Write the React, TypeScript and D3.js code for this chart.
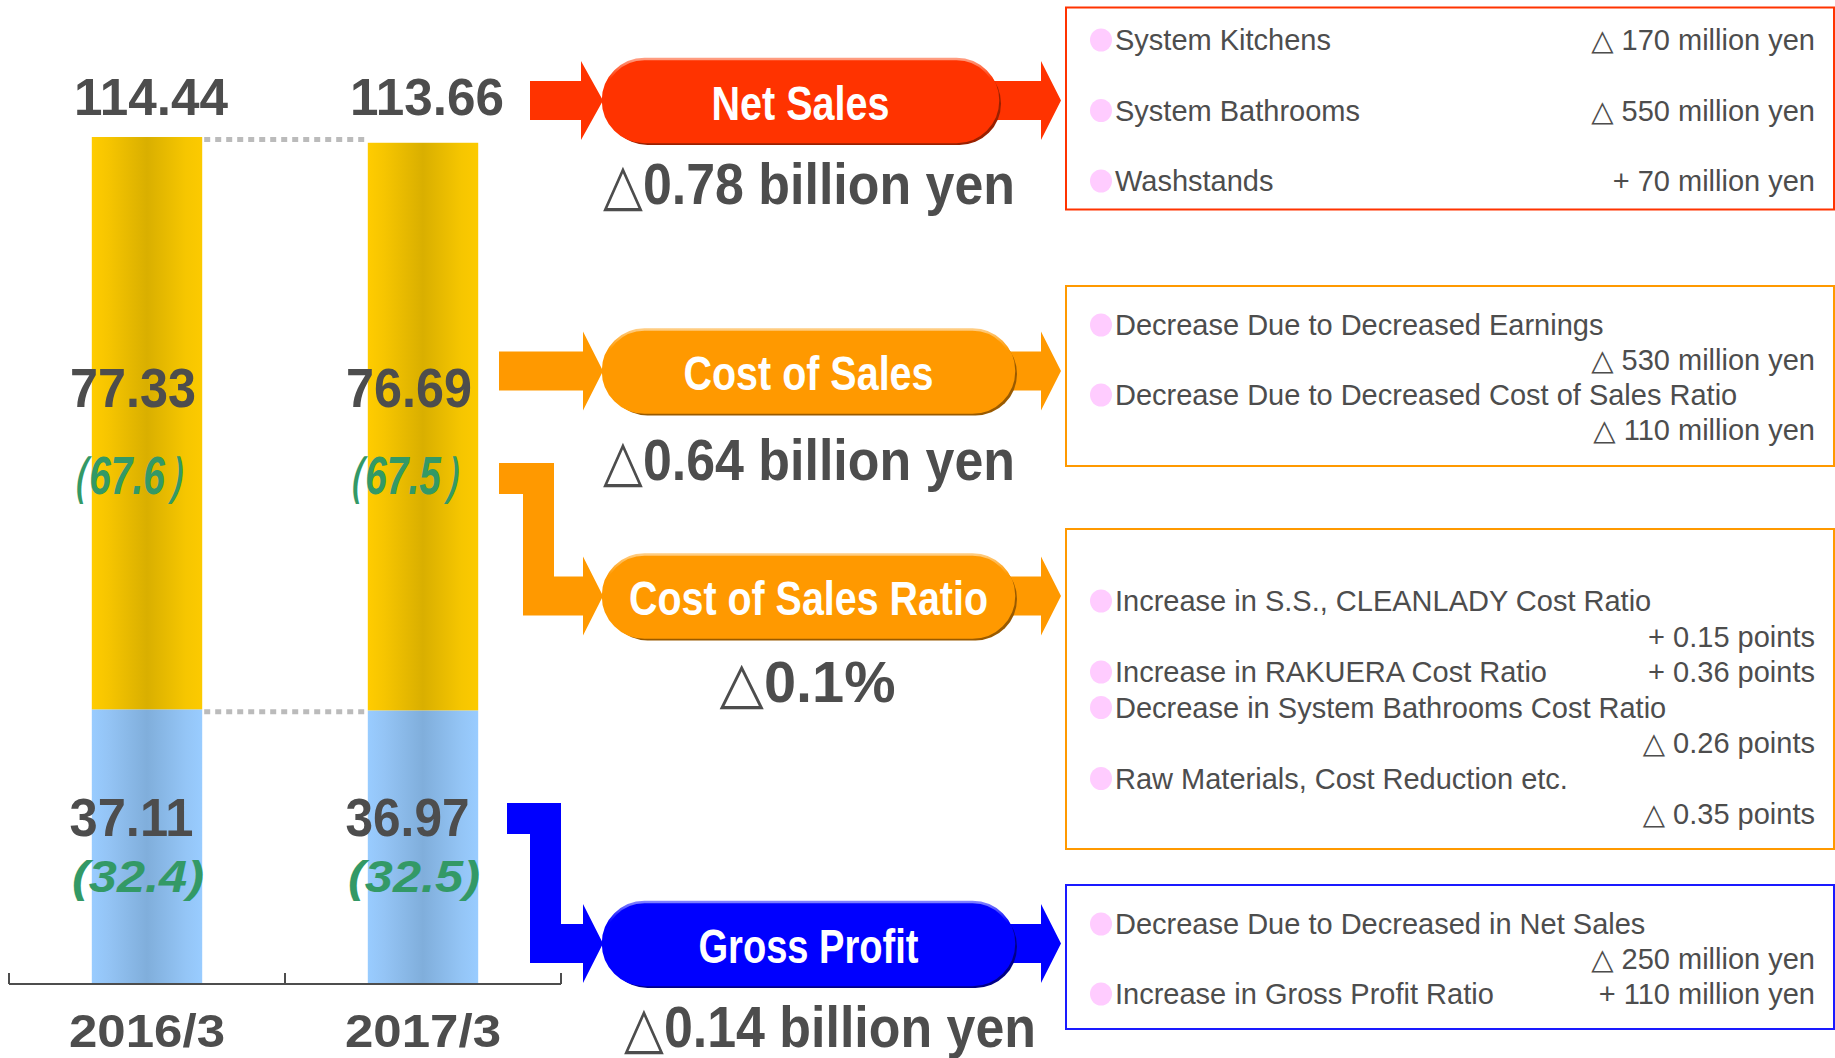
import React, { useEffect } from "react";
import * as d3 from "d3";

// ---------- data ----------
const categories = ["2016/3", "2017/3"];
const netSales = [114.44, 113.66];
const costOfSales = [77.33, 76.69];
const grossProfit = [37.11, 36.97];
const costRatio = ["（67.6）", "（67.5）"];
const grossRatio = ["(32.4)", "(32.5)"];

const flowNames = ["Net Sales", "Cost of Sales", "Cost of Sales Ratio", "Gross Profit"];
const flowChanges = ["△0.78 billion yen", "△0.64 billion yen", "△0.1%", "△0.14 billion yen"];

// [label, value, value on same line?]
const netSalesItems: [string, string, boolean][] = [
  ["System Kitchens", "△ 170 million yen", true],
  ["System Bathrooms", "△ 550 million yen", true],
  ["Washstands", "+ 70 million yen", true],
];
const costItems: [string, string, boolean][] = [
  ["Decrease Due to Decreased Earnings", "△ 530 million yen", false],
  ["Decrease Due to Decreased Cost of Sales Ratio", "△ 110 million yen", false],
];
const ratioItems: [string, string, boolean][] = [
  ["Increase in S.S., CLEANLADY Cost Ratio", "+ 0.15 points", false],
  ["Increase in RAKUERA Cost Ratio", "+ 0.36 points", true],
  ["Decrease in System Bathrooms Cost Ratio", "△ 0.26 points", false],
  ["Raw Materials, Cost Reduction etc.", "△ 0.35 points", false],
];
const grossItems: [string, string, boolean][] = [
  ["Decrease Due to Decreased in Net Sales", "△ 250 million yen", false],
  ["Increase in Gross Profit Ratio", "+ 110 million yen", true],
];

// ---------- styles ----------
const FONT = "'Liberation Sans', Arial, 'DejaVu Sans', sans-serif";
const GRAY = "#4D4D4D";
const GREEN = "#339966";

const RED = { fill: "#FF3300", shadow: "#992000", hl: "#FF9C80" };
const ORANGE = { fill: "#FF9900", shadow: "#995A00", hl: "#FFCC80" };
const BLUE = { fill: "#0000FF", shadow: "#000088", hl: "#8080FF" };

type Pal = { fill: string; shadow: string; hl: string };

function Pill({ id, x0, w, cy, pal, text, tl }: { id: string; x0: number; w: number; cy: number; pal: Pal; text: string; tl: number }) {
  const h = 83;
  const y0 = cy - h / 2;
  return (
    <g>
      <defs>
        <linearGradient id={id} x1="0" y1="0" x2="0" y2="1">
          <stop offset="0" stopColor={pal.hl} />
          <stop offset="0.25" stopColor={pal.fill} />
          <stop offset="1" stopColor={pal.fill} />
        </linearGradient>
      </defs>
      <rect x={x0 + 3} y={y0 + 3} width={w} height={h} rx={h / 2} fill={pal.shadow} />
      <rect x={x0} y={y0} width={w} height={h} rx={h / 2} fill={pal.fill} stroke={`url(#${id})`} strokeWidth={2.5} />
      <text
        x={x0 + w / 2}
        y={cy + 19}
        textAnchor="middle"
        fill="#fff"
        fontFamily={FONT}
        fontWeight="bold"
        fontSize={49}
        textLength={tl}
        lengthAdjust="spacingAndGlyphs"
      >
        {text}
      </text>
    </g>
  );
}

function arrowRight(xs: number, xb: number, xt: number, cy: number, col: string) {
  const sh = 19.5, hh = 39.5;
  const pts = [
    [xs, cy - sh], [xb, cy - sh], [xb, cy - hh], [xt, cy], [xb, cy + hh], [xb, cy + sh], [xs, cy + sh],
  ];
  return <polygon points={pts.map((p) => p.join(",")).join(" ")} fill={col} />;
}

function elbow(xs: number, ys: number, xv: number, xb: number, xt: number, cy: number, col: string) {
  const sh = 19.5, hh = 39.5, vw = 31;
  const pts = [
    [xs, ys], [xv + vw, ys], [xv + vw, cy - sh], [xb, cy - sh], [xb, cy - hh], [xt, cy],
    [xb, cy + hh], [xb, cy + sh], [xv, cy + sh], [xv, ys + 31], [xs, ys + 31],
  ];
  return <polygon points={pts.map((p) => p.join(",")).join(" ")} fill={col} />;
}

function Box({ y0, y1, color, items, first, step }: { y0: number; y1: number; color: string; items: [string, string, boolean][]; first: number; step: number }) {
  const els: React.ReactNode[] = [];
  let line = 0;
  items.forEach(([label, value, same], i) => {
    const by = first + line * step;
    els.push(<ellipse key={"b" + i} cx={1101} cy={by - 10} rx={11} ry={11.5} fill="#FFCCFF" />);
    els.push(
      <text key={"l" + i} x={1115} y={by} fill={GRAY} fontFamily={FONT} fontSize={29}>
        {label}
      </text>
    );
    const vy = same ? by : by + step;
    els.push(
      <text key={"v" + i} x={1815} y={vy} textAnchor="end" fill={GRAY} fontFamily={FONT} fontSize={29}>
        {value}
      </text>
    );
    line += same ? 1 : 2;
  });
  return (
    <g>
      <rect x={1066} y={y0} width={1834 - 1066} height={y1 - y0} fill="#fff" stroke={color} strokeWidth={2} />
      {els}
    </g>
  );
}

export default function App() {
  useEffect(() => {
    document.body.style.margin = "0";
  }, []);

  const W = 1835, H = 1058;
  const x = d3.scaleBand<string>().domain(categories).range([9, 561]).paddingInner(0.6).paddingOuter(0.3);
  const maxTotal = d3.max(netSales) as number;
  const y = d3.scaleLinear().domain([0, maxTotal]).range([984, 137]);
  const bw = x.bandwidth();

  const rows = categories.map((c, i) => ({ cat: c, gp: grossProfit[i], cos: costOfSales[i] }));
  const series = d3.stack<any>().keys(["gp", "cos"])(rows);
  const fills = ["url(#gBlue)", "url(#gYellow)"];

  const [r0, r1] = x.range();
  const ticks = d3.range(categories.length + 1).map((i) => r0 + i * x.step());

  const cx = (c: string) => (x(c) as number) + bw / 2;

  const bigNum = (key: string, tx: number, ty: number, size: number, tl: number, txt: string, italic = false, color = GRAY) => (
    <text
      key={key}
      x={tx}
      y={ty}
      textAnchor="middle"
      fill={color}
      fontFamily={FONT}
      fontWeight="bold"
      fontStyle={italic ? "italic" : "normal"}
      fontSize={size}
      textLength={tl}
      lengthAdjust="spacingAndGlyphs"
    >
      {txt}
    </text>
  );

  const flows = [
    { cy: 100.5, w: 395, pal: RED, tl: 178, chX: 809, chY: 204, chW: 412 },
    { cy: 371, w: 411, pal: ORANGE, tl: 250, chX: 809, chY: 480, chW: 412 },
    { cy: 596, w: 411, pal: ORANGE, tl: 359, chX: 807.5, chY: 701.5, chW: 176 },
    { cy: 943.5, w: 411, pal: BLUE, tl: 220, chX: 830, chY: 1046.5, chW: 412 },
  ];

  const topY = y(maxTotal);
  const gpTop = y(d3.max(grossProfit) as number);

  return (
    <svg width={W} height={H} style={{ position: "absolute", left: 0, top: 0, background: "#fff" }}>
      <defs>
        <linearGradient id="gYellow" x1="0" y1="0" x2="1" y2="0">
          <stop offset="0" stopColor="#FFCC00" />
          <stop offset="0.15" stopColor="#F6C500" />
          <stop offset="0.5" stopColor="#D9AF00" />
          <stop offset="0.85" stopColor="#F6C600" />
          <stop offset="1" stopColor="#FCCA00" />
        </linearGradient>
        <linearGradient id="gBlue" x1="0" y1="0" x2="1" y2="0">
          <stop offset="0" stopColor="#99CCFF" />
          <stop offset="0.15" stopColor="#94C4F5" />
          <stop offset="0.5" stopColor="#80AEDB" />
          <stop offset="0.85" stopColor="#94C5F6" />
          <stop offset="1" stopColor="#99CCFF" />
        </linearGradient>
      </defs>
      <rect width={W} height={H} fill="#fff" />

      {/* stacked bars */}
      {series.map((s, si) =>
        s.map((d, i) => (
          <rect
            key={`${si}-${i}`}
            x={x(categories[i]) as number}
            y={y(d[1])}
            width={bw}
            height={y(d[0]) - y(d[1])}
            fill={fills[si]}
          />
        ))
      )}

      {/* dashed connectors */}
      {[netSales[0], grossProfit[0]].map((v, i) => (
        <line
          key={"dc" + i}
          x1={(x(categories[0]) as number) + bw + 2}
          x2={(x(categories[1]) as number) - 2}
          y1={y(v) + 2.5}
          y2={y(v) + 2.5}
          stroke="#BBBBBB"
          strokeWidth={5}
          strokeDasharray="6 5"
        />
      ))}

      {/* axis */}
      <line x1={r0} x2={r1} y1={y(0)} y2={y(0)} stroke={GRAY} strokeWidth={2} />
      {ticks.map((t, i) => (
        <line key={"t" + i} x1={t} x2={t} y1={y(0)} y2={y(0) - 11} stroke={GRAY} strokeWidth={2} />
      ))}

      {/* bar labels */}
      {categories.map((c, i) => {
        const m = cx(c);
        return (
          <g key={"lab" + i}>
            {bigNum("tot", m + 4, topY - 22, 51, 154, netSales[i].toFixed(2))}
            {bigNum("cos", m - 14, topY + 270, 55, 126, costOfSales[i].toFixed(2))}
            {bigNum("cr", m - 20, topY + 357, 54, 153, costRatio[i], true, GREEN)}
            {bigNum("gp", m - 15.5, gpTop + 127, 53, 124, grossProfit[i].toFixed(2))}
            {bigNum("gr", m - 9, gpTop + 183, 45, 132, grossRatio[i], true, GREEN)}
            {bigNum("cat", m, y(0) + 63, 46, 156, c)}
          </g>
        );
      })}

      {/* arrows */}
      {arrowRight(530, 581, 603, flows[0].cy, RED.fill)}
      {arrowRight(499, 583, 603, flows[1].cy, ORANGE.fill)}
      {elbow(499, 463, 523, 583, 603, flows[2].cy, ORANGE.fill)}
      {elbow(507, 803, 530, 583, 603, flows[3].cy, BLUE.fill)}
      {flows.map((f, i) => (
        <g key={"ra" + i}>{arrowRight(960, 1041, 1061, f.cy, f.pal.fill)}</g>
      ))}

      {/* pills + change text */}
      {flows.map((f, i) => (
        <g key={"fl" + i}>
          <Pill id={"hl" + i} x0={603} w={f.w} cy={f.cy} pal={f.pal} text={flowNames[i]} tl={f.tl} />
          {bigNum("ch" + i, f.chX, f.chY, 58, f.chW, flowChanges[i])}
        </g>
      ))}

      {/* detail boxes */}
      <Box y0={7.5} y1={209.5} color="#FF3300" items={netSalesItems} first={50} step={70.5} />
      <Box y0={286} y1={466} color="#FF9900" items={costItems} first={335} step={35} />
      <Box y0={529} y1={849} color="#FF9900" items={ratioItems} first={611} step={35.5} />
      <Box y0={885} y1={1029} color="#1A1AFF" items={grossItems} first={934} step={35} />
    </svg>
  );
}
